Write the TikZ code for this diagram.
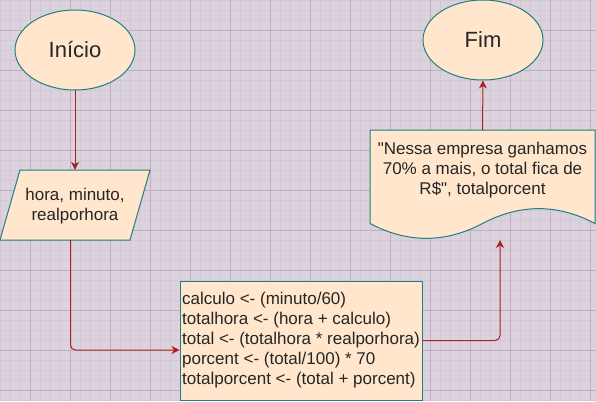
\documentclass[tikz,border=0pt]{standalone}
\usepackage{fontspec}
\setmainfont{Liberation Sans}
\usepackage{xcolor}
\usepackage{tikz}
\usetikzlibrary{shapes,arrows,positioning,calc,arrows.meta}

\definecolor{gridbg}{HTML}{DBD2DD}
\definecolor{gridminor}{HTML}{D2C9D4}
\definecolor{gridmajor}{HTML}{BDAFBE}
\definecolor{boxfill}{HTML}{FFE6CC}
\definecolor{boxline}{HTML}{1E7F80}
\definecolor{arrowred}{HTML}{A82222}
\definecolor{textgray}{HTML}{262626}

\begin{document}
\begin{tikzpicture}[x=1pt, y=-1pt,
    box/.style={draw=boxline, fill=boxfill, line width=1pt, text=textgray, font=\fontsize{17}{20}\selectfont},
    terminal/.style={box, ellipse, minimum width=120pt, minimum height=80pt, font=\fontsize{22}{26}\selectfont},
    label/.style={text=textgray, font=\fontsize{17}{20}\selectfont, align=center},
    conn/.style={draw=arrowred, line width=1pt, rounded corners=5pt, -{Stealth[length=8pt, width=8pt, inset=2.5pt]}}]
    \useasboundingbox (0,0) rectangle (596,401);

    % Grid
    \fill[gridbg] (0,0) rectangle (596,401);
    \foreach \gx in {0,10,...,590} {
        \draw[gridminor, line width=0.5pt] (\gx,0) -- (\gx,401);
    }
    \foreach \gy in {0,10,...,400} {
        \draw[gridminor, line width=0.5pt] (0,\gy) -- (596,\gy);
    }
    \foreach \gx in {30,70,...,590} {
        \draw[gridmajor, line width=0.7pt] (\gx,0) -- (\gx,401);
    }
    \foreach \gy in {30,70,...,390} {
        \draw[gridmajor, line width=0.7pt] (0,\gy) -- (596,\gy);
    }

    \node[terminal] (inicio) at (75,50) {Início};

    \draw[box] (0,240) -- (130,240) -- (150,170) -- (20,170) -- cycle;
    \node[label, minimum width=150pt, minimum height=70pt] (entrada) at (75,206) {hora, minuto,\\realporhora};

    \node[box, rectangle, minimum width=242pt, minimum height=119pt, inner xsep=2pt, align=left] (processo) at (301,340.5) {calculo <- (minuto/60)\\totalhora <- (hora + calculo)\\total <- (totalhora * realporhora)\\porcent <- (total/100) * 70\\totalporcent <- (total + porcent)};

    \draw[box] (370,130) -- (595,130) -- (595,223.5)
        .. controls (557.5,203.7) and (520,203.7) .. (482.5,223.5)
        .. controls (445,243.3) and (407.5,243.3) .. (370,223.5) -- cycle;
    \node[label] (documento) at (482.5,170) {\textquotedbl Nessa empresa ganhamos\\70\% a mais, o total fica de\\R\$\textquotedbl, totalporcent};
    \coordinate (docin) at (500,240);
    \coordinate (docout) at (482.5,130);

    \node[terminal] (fim) at (483,40) {Fim};

    \draw[conn] (inicio.south) -- ([yshift=1pt]entrada.north);
    \draw[conn] ([xshift=-4.5pt,yshift=1pt]entrada.south) |- ([yshift=-9.5pt]processo.west);
    \draw[conn] (processo.east) -| (docin);
    \draw[conn] (docout) -- (fim.south);
\end{tikzpicture}
\end{document}
